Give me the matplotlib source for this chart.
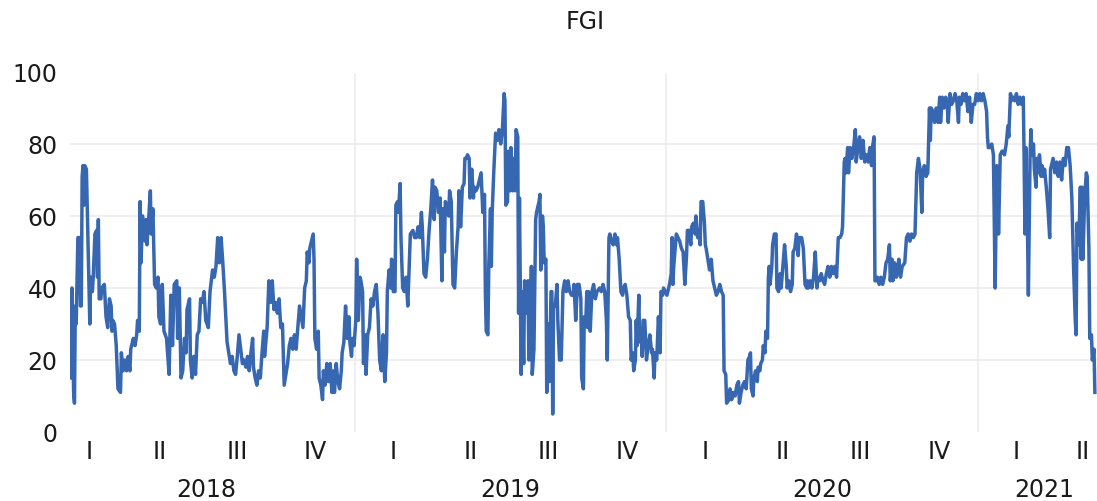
import pandas as pd
import matplotlib
matplotlib.use("Agg")
import matplotlib.pyplot as plt
import matplotlib.dates as mdates
import matplotlib.transforms as mtransforms

# Series start; every reading below is (days after START, FGI value)
START = pd.Timestamp("2018-02-01")
LAST_DAY = 1204.5  # right edge of the plot, in days after START
LABEL_SPAN = (-14, 1221)  # range the quarter / year captions are centred over

fgi_2018 = [
    (0, 30), (1, 15), (2, 40), (4, 11), (5, 8), (6, 35), (7, 30), (9, 54), (11, 54), (12, 35),
    (13, 35), (14, 71), (15, 74), (16, 63), (17, 74), (19, 73), (20, 62), (22, 39), (23, 30), (24, 43),
    (26, 39), (27, 43), (29, 55), (31, 56), (32, 43), (33, 59), (34, 37), (36, 37), (37, 40), (40, 41),
    (42, 32), (44, 29), (46, 37), (48, 35), (49, 28), (50, 31), (52, 30), (54, 24), (56, 12), (59, 11),
    (60, 22), (62, 17), (64, 20), (66, 17), (68, 21), (70, 17), (71, 23), (74, 26), (76, 24), (78, 27),
    (79, 31), (81, 28), (82, 64), (83, 47), (85, 60), (88, 53), (89, 59), (90, 52), (92, 59), (94, 67),
    (95, 55), (97, 62), (99, 41), (101, 40), (103, 43), (104, 32), (106, 30), (108, 41), (110, 28), (113, 26),
    (116, 16), (118, 38), (120, 24), (122, 41), (125, 42), (126, 26), (128, 40), (130, 15), (132, 17), (134, 26),
    (136, 22), (137, 34), (140, 37), (141, 20), (143, 15), (145, 21), (147, 16), (149, 27), (151, 28), (153, 37),
    (155, 36), (157, 39), (159, 31), (162, 29), (164, 39), (167, 45), (169, 43), (171, 46), (173, 54), (175, 47),
    (177, 54), (179, 47), (181, 39), (183, 30), (184, 25), (186, 22), (188, 19), (190, 21), (192, 17), (194, 16),
    (196, 21), (198, 27), (200, 23), (202, 19), (204, 20), (206, 18), (208, 21), (210, 17), (212, 22), (214, 26),
    (215, 18), (217, 15), (219, 13), (221, 17), (223, 15), (225, 22), (227, 28), (228, 21), (231, 29), (233, 42),
    (235, 36), (237, 42), (239, 34), (241, 36), (243, 33), (245, 37), (247, 29), (249, 30), (251, 13), (255, 19),
    (257, 24), (259, 26), (261, 23), (263, 27), (265, 23), (269, 35), (271, 32), (273, 29), (275, 40), (277, 42),
    (278, 50), (280, 47), (281, 51), (284, 54), (285, 55), (286, 48), (287, 26), (289, 23), (291, 28), (292, 15),
    (294, 13), (296, 9), (297, 17), (299, 13), (301, 19), (303, 14), (305, 19), (307, 11), (309, 17), (310, 11),
    (312, 19), (314, 14), (316, 12), (318, 17), (319, 22), (321, 25), (323, 35), (325, 26), (327, 32), (328, 25),
    (330, 21), (331, 26), (333, 24),
]

fgi_2019 = [
    (335, 31), (336, 48), (338, 31), (340, 43), (341, 42), (343, 39), (344, 19), (346, 27), (347, 16), (349, 27),
    (351, 29), (353, 37), (355, 35), (357, 39), (359, 41), (361, 33), (363, 20), (365, 17), (366, 23), (367, 27),
    (369, 14), (371, 22), (372, 39), (374, 45), (376, 40), (377, 48), (379, 39), (381, 39), (382, 63), (384, 64),
    (385, 61), (387, 69), (388, 54), (390, 40), (392, 39), (394, 43), (396, 35), (398, 48), (399, 55), (402, 56),
    (404, 54), (406, 54), (408, 57), (410, 54), (412, 61), (413, 57), (415, 44), (417, 43), (419, 48), (421, 56),
    (423, 62), (425, 70), (427, 59), (428, 68), (430, 67), (432, 61), (434, 65), (436, 42), (437, 62), (439, 50),
    (440, 64), (442, 63), (444, 60), (445, 67), (447, 64), (449, 41), (451, 40), (453, 50), (455, 57), (456, 67),
    (458, 57), (460, 68), (462, 69), (463, 76), (465, 76), (466, 77), (468, 76), (469, 65), (471, 73), (473, 65),
    (474, 68), (476, 67), (478, 68), (480, 70), (482, 72), (484, 61), (486, 66), (487, 39), (488, 28), (490, 27),
    (491, 46), (493, 62), (494, 46), (495, 61), (497, 73), (499, 83), (501, 81), (503, 84), (505, 80), (507, 84),
    (509, 94), (510, 92), (511, 63), (513, 64), (514, 78), (516, 67), (517, 79), (519, 67), (520, 76), (522, 67),
    (523, 84), (525, 82), (526, 33), (527, 65), (529, 16), (530, 39), (532, 19), (533, 42), (535, 33), (537, 42),
    (538, 20), (540, 34), (541, 46), (542, 16), (544, 23), (546, 59), (547, 61), (550, 64), (551, 66), (552, 45),
    (554, 60), (555, 57), (556, 47), (558, 48), (559, 11), (561, 30), (562, 14), (564, 39), (565, 39), (566, 5),
    (567, 35), (569, 35), (571, 41), (572, 31), (574, 20), (576, 20), (578, 39), (580, 42), (582, 39), (584, 42),
    (586, 39), (588, 38), (590, 38), (591, 41), (593, 31), (595, 41), (597, 41), (599, 37), (600, 15), (602, 12),
    (603, 32), (605, 32), (606, 39), (607, 29), (608, 39), (610, 28), (612, 39), (614, 41), (616, 37), (618, 39),
    (621, 40), (623, 39), (625, 41), (627, 39), (629, 31), (630, 20), (632, 54), (633, 55), (635, 53), (637, 52),
    (639, 55), (641, 52), (642, 54), (644, 48), (646, 39), (648, 38), (649, 40), (651, 41), (653, 38), (655, 32),
    (657, 31), (658, 20), (660, 22), (661, 17), (663, 20), (664, 31), (665, 24), (667, 38), (668, 25), (670, 28),
    (671, 21), (672, 31), (674, 31), (676, 20), (678, 24), (680, 27), (682, 22), (683, 23), (685, 15), (686, 22),
    (688, 20), (690, 32), (692, 22), (693, 39), (695, 38), (696, 40), (698, 39),
]

fgi_2020 = [
    (700, 38), (701, 39), (703, 41), (705, 44), (706, 54), (707, 41), (708, 46), (711, 55), (713, 54), (715, 53),
    (717, 51), (719, 50), (721, 41), (723, 49), (724, 56), (726, 56), (728, 52), (729, 57), (731, 58), (733, 55),
    (734, 60), (736, 54), (737, 56), (739, 52), (740, 64), (742, 64), (744, 58), (745, 52), (746, 51), (748, 48),
    (750, 45), (752, 48), (754, 42), (756, 40), (758, 38), (760, 39), (762, 41), (764, 39), (766, 38), (767, 17),
    (769, 16), (770, 8), (773, 9), (774, 12), (776, 9), (778, 11), (780, 10), (782, 13), (784, 14), (785, 8),
    (787, 11), (789, 13), (791, 14), (793, 12), (795, 20), (797, 21), (798, 22), (799, 12), (801, 10), (802, 15),
    (804, 17), (806, 14), (807, 18), (809, 17), (810, 19), (812, 20), (813, 24), (815, 22), (816, 28), (818, 26),
    (819, 43), (820, 46), (821, 41), (823, 46), (824, 52), (826, 55), (828, 55), (829, 40), (831, 39), (833, 44),
    (834, 40), (836, 46), (838, 52), (840, 46), (841, 40), (843, 42), (845, 39), (847, 41), (848, 50), (850, 51),
    (852, 55), (854, 49), (855, 54), (857, 54), (858, 54), (860, 51), (862, 41), (864, 40), (865, 42), (866, 40),
    (868, 42), (870, 40), (872, 43), (874, 50), (876, 40), (877, 43), (879, 42), (881, 44), (883, 42), (885, 41),
    (887, 44), (889, 46), (891, 43), (893, 46), (895, 44), (897, 46), (899, 43), (901, 54), (903, 54), (905, 55),
    (906, 57), (908, 75), (909, 76), (910, 72), (912, 79), (913, 72), (915, 79), (917, 76), (919, 79), (921, 84),
    (922, 75), (924, 79), (926, 82), (928, 76), (930, 81), (932, 75), (934, 77), (936, 75), (938, 79), (940, 74),
    (941, 79), (943, 82), (944, 42), (946, 42), (947, 43), (949, 41), (951, 43), (953, 41), (955, 43), (957, 47),
    (959, 48), (961, 52), (962, 42), (964, 48), (965, 42), (967, 47), (969, 43), (970, 44), (972, 48), (974, 43),
    (976, 46), (979, 47), (981, 54), (983, 55), (985, 53), (987, 55), (989, 54), (991, 55), (993, 72), (994, 74),
    (995, 76), (997, 73), (999, 61), (1000, 72), (1002, 74), (1004, 71), (1006, 72), (1008, 90), (1009, 81), (1010, 90),
    (1012, 89), (1014, 86), (1016, 90), (1018, 86), (1020, 93), (1021, 86), (1023, 93), (1025, 90), (1027, 93), (1029, 90),
    (1030, 86), (1032, 94), (1034, 91), (1036, 92), (1038, 94), (1040, 92), (1042, 86), (1043, 93), (1045, 91), (1047, 94),
    (1049, 92), (1051, 94), (1053, 89), (1055, 93), (1057, 86), (1059, 91), (1061, 91), (1063, 94),
]

fgi_2021 = [
    (1065, 92), (1067, 94), (1069, 92), (1071, 94), (1073, 92), (1075, 89), (1076, 82), (1077, 79), (1079, 79), (1081, 80),
    (1083, 77), (1085, 40), (1087, 74), (1088, 73), (1089, 55), (1091, 77), (1093, 78), (1094, 78), (1096, 77), (1098, 80),
    (1100, 85), (1101, 82), (1103, 94), (1104, 92), (1106, 93), (1108, 92), (1110, 94), (1112, 91), (1114, 93), (1116, 91),
    (1118, 93), (1119, 76), (1120, 55), (1121, 79), (1123, 55), (1124, 38), (1126, 77), (1127, 84), (1128, 77), (1130, 80),
    (1131, 73), (1133, 68), (1134, 76), (1136, 72), (1137, 77), (1139, 71), (1140, 74), (1142, 71), (1143, 73), (1145, 68),
    (1147, 62), (1149, 54), (1150, 73), (1151, 74), (1153, 76), (1155, 72), (1157, 75), (1159, 71), (1161, 75), (1163, 70),
    (1165, 76), (1167, 74), (1169, 79), (1171, 79), (1173, 74), (1175, 65), (1177, 46), (1179, 31), (1180, 27), (1181, 58),
    (1183, 52), (1185, 68), (1186, 48), (1187, 68), (1188, 48), (1190, 65), (1192, 72), (1193, 71), (1194, 61), (1195, 51),
    (1196, 26), (1198, 27), (1199, 20), (1201, 23), (1202, 11),
]

YEARS = [2018, 2019, 2020, 2021]
QUARTERS = ["I", "II", "III", "IV"]
Y_TICKS = [0, 20, 40, 60, 80, 100]

LINE_COLOR = "#3767b1"
GRID_COLOR = "#ebebeb"
TEXT_COLOR = "#1a1a1a"
FS = 17

readings = fgi_2018 + fgi_2019 + fgi_2020 + fgi_2021
days = [d for d, _ in readings]
fgi = [v for _, v in readings]
dates = START + pd.to_timedelta(days, unit="D")

fig = plt.figure(figsize=(10.97, 5.02), dpi=100)
ax = fig.add_axes([70 / 1097, 1 - 433 / 502, 1 - 70 / 1097, 360 / 502])

ax.plot(dates, fgi, color=LINE_COLOR, lw=2.5, solid_joinstyle="round")

def day_num(d):
    return mdates.date2num(START + pd.Timedelta(days=d))

x0, x1 = day_num(-0.25), day_num(LAST_DAY)
ax.set_xlim(x0, x1)
ax.set_ylim(0, 100)

# horizontal grid at inner ticks, vertical lines at year starts
for y in Y_TICKS[1:-1]:
    ax.axhline(y, color=GRID_COLOR, lw=1.1, zorder=0)
for yr in YEARS[1:]:
    ax.axvline(mdates.date2num(pd.Timestamp(f"{yr}-01-01")), ymax=0.995,
               color=GRID_COLOR, lw=1.1, zorder=0)

for s in ax.spines.values():
    s.set_visible(False)
ax.set_xticks([])
ax.set_yticks(Y_TICKS)
ax.tick_params(axis="y", length=0, pad=9, labelsize=FS, labelcolor=TEXT_COLOR)

# quarter and year captions under the axis
lo, hi = day_num(LABEL_SPAN[0]), day_num(LABEL_SPAN[1])
trans = mtransforms.blended_transform_factory(ax.transData, ax.transAxes)
for yr in YEARS:
    ys = max(mdates.date2num(pd.Timestamp(f"{yr}-01-01")), lo)
    ye = min(mdates.date2num(pd.Timestamp(f"{yr + 1}-01-01")), hi)
    for qi, qname in enumerate(QUARTERS):
        q_start = pd.Timestamp(year=yr, month=3 * qi + 1, day=1)
        qs = max(mdates.date2num(q_start), lo)
        qe = min(mdates.date2num(q_start + pd.DateOffset(months=3)), hi)
        if qe - qs < 20:
            continue
        ax.text((qs + qe) / 2, -0.053, qname, transform=trans, ha="center", va="center",
                fontsize=FS, color=TEXT_COLOR)
    ax.text((ys + ye) / 2, -0.158, str(yr), transform=trans, ha="center", va="center",
            fontsize=FS, color=TEXT_COLOR)

fig.text(585 / 1097, 1 - 22 / 502, "FGI", ha="center", va="center", fontsize=FS, color=TEXT_COLOR)

fig.savefig("out.png", dpi=100)
